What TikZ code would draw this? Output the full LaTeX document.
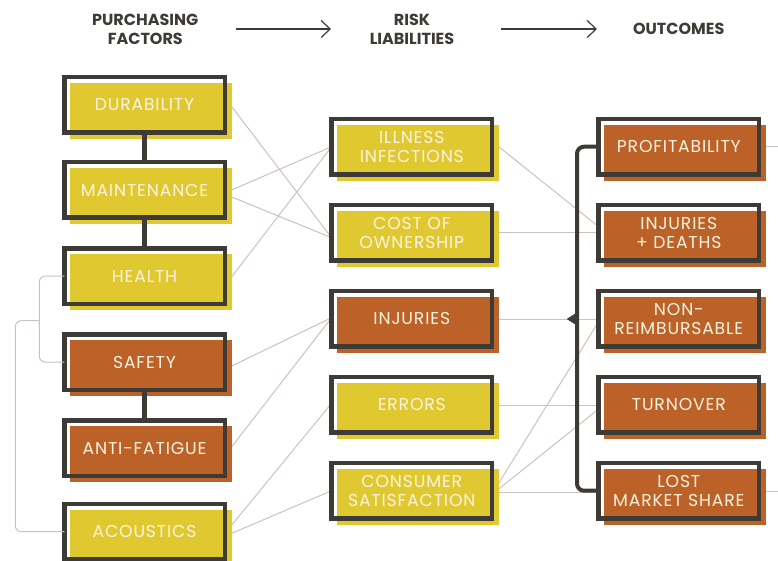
\documentclass[tikz,border=0pt]{standalone}
\usepackage{fontspec}
\setmainfont{Poppins}
\usetikzlibrary{calc,backgrounds,arrows.meta}
\definecolor{yel}{HTML}{E0C930}
\definecolor{org}{HTML}{BC6228}
\definecolor{drk}{HTML}{3E3B36}
\definecolor{lin}{HTML}{CBC2BC}
\definecolor{txt}{HTML}{FBF3E0}
\newcommand{\lblfont}{\fontsize{17.2}{19.2}\selectfont\addfontfeature{LetterSpace=5}}
\newcommand{\hdrfont}{\fontsize{16}{19}\selectfont\bfseries}
\tikzset{
  box/.style={draw=drk, line width=4.5pt, minimum width=160.5pt, minimum height=55.5pt,
    inner sep=0pt, outer sep=0pt, align=center, text=txt, font=\lblfont},
  hdr/.style={align=center, text=drk, font=\hdrfont, inner sep=0pt},
  harrow/.style={draw=drk, line width=1.2pt, -{Straight Barb[length=9pt,width=17pt,line width=1.2pt]}},
  lite/.style={draw=lin, line width=1pt},
  link/.style={draw=drk, line width=4.5pt},
  bracket/.style={draw=drk, line width=4pt, rounded corners=7pt},
  lbrack/.style={draw=lin, line width=1pt, rounded corners=6pt}
}
\begin{document}
\begin{tikzpicture}[x=1pt,y=-1pt]
\useasboundingbox (0,0) rectangle (778,561);
% headers
\node[hdr] (h1) at (145.3,29) {PURCHASING\\FACTORS};
\node[hdr] (h2) at (412,29) {RISK\\LIABILITIES};
\node[hdr] (h3) at (678.7,28.6) {OUTCOMES};
\coordinate (a1s) at (236,29); \coordinate (a1e) at (331,29);
\coordinate (a2s) at (501,29); \coordinate (a2e) at (597,29);
\draw[harrow] (a1s) -- (a1e);
\draw[harrow] (a2s) -- (a2e);
% left column
\node[box] (dur)  at (144.5,104.7) {DURABILITY};
\node[box] (main) at (144.5,190)   {MAINTENANCE};
\node[box] (hea)  at (144.5,276)   {HEALTH};
\node[box] (saf)  at (144.5,362)   {SAFETY};
\node[box] (anti) at (144.5,448)   {ANTI-FATIGUE};
\node[box] (acou) at (144.5,531.7) {ACOUSTICS};
% middle column
\node[box] (ill)  at (411.8,146.7) {ILLNESS\\INFECTIONS};
\node[box] (cost) at (411.8,232.7) {COST OF\\OWNERSHIP};
\node[box] (inj)  at (411.8,318.7) {INJURIES};
\node[box] (err)  at (411.8,404.7) {ERRORS};
\node[box] (cons) at (411.8,490.7) {CONSUMER\\SATISFACTION};
% right column
\node[box] (prof) at (678.8,146.7) {PROFITABILITY};
\node[box] (injd) at (678.8,232.7) {INJURIES\\+ DEATHS};
\node[box] (nonr) at (678.8,318.7) {NON-\\REIMBURSABLE};
\node[box] (turn) at (678.8,404.7) {TURNOVER};
\node[box] (lost) at (678.8,490.7) {LOST\\MARKET SHARE};
% left dark links
\draw[link] (dur.south) -- (main.north);
\draw[link] (main.south) -- (hea.north);
\draw[link] (saf.south) -- (anti.north);
% left light brackets
\coordinate (lb) at (39.3,320.7);
\coordinate (lb2) at (15.3,320.7);
\draw[lbrack] (hea.west) -- (hea.west -| lb) -- (saf.west -| lb) -- (saf.west);
\draw[lbrack] (lb) -- (lb2) -- (acou.west -| lb2) -- (acou.west);
% right bracket
\coordinate (bx) at (577,0);
\draw[bracket] (prof.west) -- (prof.west -| bx) -- (lost.west -| bx) -- (lost.west);
\fill[drk] ($(inj.east -| bx)+(-10.3,0.3)$) -- ($(inj.east -| bx)+(0,-6.2)$) -- ($(inj.east -| bx)+(0,6.8)$) -- cycle;
% edge coordinates
\coordinate (re1) at (778,146.7);
\coordinate (re2) at (778,491.7);
\begin{scope}[on background layer]
  % light connectors
  \draw[lite] ($(dur.east)+(7,2)$) -- ($(cost.west)+(0,5)$);
  \draw[lite] ($(main.east)+(7,0)$) -- ($(ill.west)+(0,0)$);
  \draw[lite] ($(main.east)+(7,7)$) -- ($(cost.west)+(0,5)$);
  \draw[lite] ($(hea.east)+(7,0.7)$) -- ($(ill.west)+(0,0)$);
  \draw[lite] ($(saf.east)+(7,4)$) -- ($(inj.west)+(0,-1)$);
  \draw[lite] ($(anti.east)+(7,-1.3)$) -- ($(inj.west)+(0,-1)$);
  \draw[lite] ($(acou.east)+(7,-6.7)$) -- ($(err.west)+(0,-1.4)$);
  \draw[lite] ($(acou.east)+(7,1.6)$) -- ($(cons.west)+(0,0)$);
  \draw[lite] ($(ill.east)+(6.7,0)$) -- ($(injd.west)+(0,-6)$);
  \draw[lite] ($(cost.east)+(6.7,0)$) -- ($(injd.west)+(0,0)$);
  \draw[lite] ($(inj.east)+(6.7,0.3)$) -- ($(nonr.west)+(0,0.3)$);
  \draw[lite] ($(err.east)+(6.7,1)$) -- ($(turn.west)+(0,1)$);
  \draw[lite] ($(cons.east)+(6.7,1.5)$) -- ($(lost.west)+(0,1.5)$);
  \draw[lite] ($(cons.east)+(6.7,-7.4)$) -- ($(nonr.west)+(0,3)$);
  \draw[lite] ($(cons.east)+(6.7,-1.7)$) -- ($(turn.west)+(0,4.3)$);
  \draw[lite] ($(prof.east)+(6,0)$) -- (re1);
  \draw[lite] ($(lost.east)+(6,1)$) -- (re2);
  % fills
  \foreach \n/\c in {dur/yel,main/yel,hea/yel,saf/org,anti/org,acou/yel,
                     ill/yel,cost/yel,inj/org,err/yel,cons/yel,
                     prof/org,injd/org,nonr/org,turn/org,lost/org}
    \fill[\c] ($(\n.north west)+(5.5,5.7)$) rectangle ($(\n.south east)+(7.3,6.3)$);
\end{scope}
\end{tikzpicture}
\end{document}
